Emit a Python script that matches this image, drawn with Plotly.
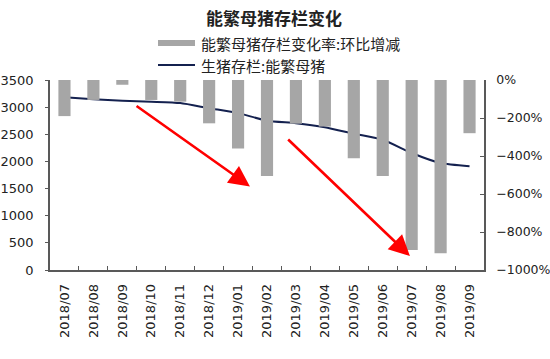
import plotly.graph_objects as go

categories = ["2018/07", "2018/08", "2018/09", "2018/10", "2018/11", "2018/12",
              "2019/01", "2019/02", "2019/03", "2019/04", "2019/05", "2019/06",
              "2019/07", "2019/08", "2019/09"]
sow_change_pct = [-190, -105, -25, -105, -114, -228, -360, -505, -230, -245,
                  -412, -505, -895, -912, -280]
sow_stock = [3180, 3145, 3120, 3100, 3075, 2980, 2890, 2750, 2705, 2630,
             2510, 2400, 2155, 1970, 1910]

title_text = "能繁母猪存栏变化"
bar_name = "能繁母猪存栏变化率:环比增减"
line_name = "生猪存栏:能繁母猪"

W, H = 550, 359
L, R, T, B = 50, 66, 80, 89
PW, PH = W - L - R, H - T - B

def px(x):
    return (x - L) / PW

def py(y):
    return (H - B - y) / PH

FONT = "DejaVu Sans"
CJK = "Noto Sans CJK SC"
BAR_C = "#A6A6A6"
LINE_C = "#14214F"
AX_C = "#595959"
TXT = "#222222"

fig = go.Figure()
fig.add_trace(go.Bar(x=categories, y=sow_change_pct, yaxis="y2", name=bar_name,
                     marker=dict(color=BAR_C, line=dict(width=0)), width=0.42,
                     showlegend=False))
fig.add_trace(go.Scatter(x=categories, y=sow_stock, yaxis="y", name=line_name,
                         mode="lines", line=dict(color=LINE_C, width=2, shape="spline", smoothing=0.6),
                         showlegend=False))

shapes = [
    dict(type="rect", xref="paper", yref="paper", x0=px(158), x1=px(195), y0=py(46), y1=py(40),
         fillcolor=BAR_C, line=dict(width=0)),
    dict(type="line", xref="paper", yref="paper", x0=px(158), x1=px(195), y0=py(65), y1=py(65),
         line=dict(color=LINE_C, width=1.8)),
]

annotations = [
    dict(text="<b>" + title_text + "</b>", xref="paper", yref="paper", x=px(274), y=py(17),
         xanchor="center", yanchor="middle", showarrow=False,
         font=dict(family=CJK, size=17, color=TXT)),
    dict(text=bar_name, xref="paper", yref="paper", x=px(199), y=py(43),
         xanchor="left", yanchor="middle", showarrow=False,
         font=dict(family=CJK, size=15, color=TXT)),
    dict(text=line_name, xref="paper", yref="paper", x=px(199), y=py(65),
         xanchor="left", yanchor="middle", showarrow=False,
         font=dict(family=CJK, size=15, color=TXT)),
    dict(x=6.41, y=1540, ax=2.44, ay=3040, xref="x", yref="y", axref="x", ayref="y",
         showarrow=True, arrowhead=2, arrowsize=1.6, arrowwidth=2.6, arrowcolor="#FF0000", text=""),
    dict(x=11.94, y=257, ax=7.68, ay=2430, xref="x", yref="y", axref="x", ayref="y",
         showarrow=True, arrowhead=2, arrowsize=1.6, arrowwidth=2.6, arrowcolor="#FF0000", text=""),
]

fig.update_layout(
    width=W, height=H,
    margin=dict(l=L, r=R, t=T, b=B, pad=0, autoexpand=False),
    paper_bgcolor="white", plot_bgcolor="white",
    font=dict(family=FONT, size=13, color=TXT),
    xaxis=dict(type="category", showgrid=False, showline=True, linecolor=AX_C, linewidth=1.5,
               ticks="inside", tickson="boundaries", ticklen=4, tickcolor=AX_C,
               tickangle=-90, ticklabelstandoff=7, automargin=False,
               tickfont=dict(family=FONT, size=13, color=TXT)),
    yaxis=dict(range=[0, 3500], dtick=500, showgrid=False, zeroline=False, showline=True,
               linecolor=AX_C, linewidth=1.5, ticks="outside", ticklen=3, tickcolor=AX_C,
               ticklabelstandoff=9, automargin=False,
               tickfont=dict(family=FONT, size=13, color=TXT)),
    yaxis2=dict(range=[-1000, 0], dtick=200, overlaying="y", side="right", showgrid=False,
                zeroline=False, showline=True, linecolor=AX_C, linewidth=1.5,
                ticks="inside", ticklen=4, tickcolor=AX_C, ticksuffix="%",
                ticklabelstandoff=8, automargin=False,
                tickfont=dict(family=FONT, size=12.5, color=TXT)),
    shapes=shapes,
    annotations=annotations,
)

fig.write_html("out.html", config={"displayModeBar": False},
               post_script="document.body.style.margin='0';document.body.style.padding='0';document.body.style.overflow='hidden';")
